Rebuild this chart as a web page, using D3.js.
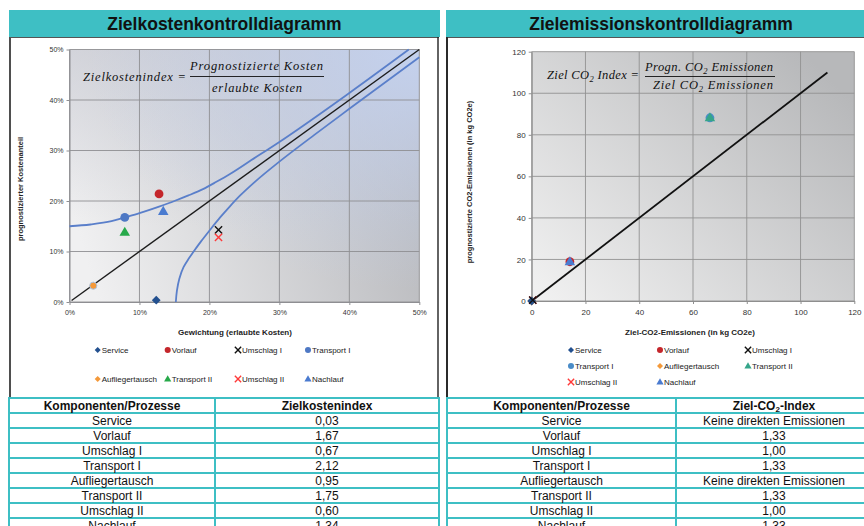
<!DOCTYPE html>
<html>
<head>
<meta charset="utf-8">
<script src="https://cdn.jsdelivr.net/npm/d3@7/dist/d3.min.js"></script>
<style>
  html, body { margin: 0; padding: 0; background: #fff; }
  svg { display: block; font-family: "Liberation Sans", Arial, sans-serif; }
</style>
</head>
<body>
<svg id="chart" width="864" height="526"></svg>
<script>
// ---------- data ----------
const processes = ["Service", "Vorlauf", "Umschlag I", "Transport I", "Aufliegertausch", "Transport II", "Umschlag II", "Nachlauf"];

// Zielkosten: weight (allowed cost share) and forecast cost share
const erlaubteKosten = [0.124, 0.128, 0.213, 0.079, 0.034, 0.079, 0.213, 0.134];
const prognKosten    = [0.0037, 0.214, 0.1427, 0.1675, 0.0323, 0.138, 0.128, 0.1795];
const zielkostenIndex = ["0,03", "1,67", "0,67", "2,12", "0,95", "1,75", "0,60", "1,34"];

// Target cost zone boundaries (x, y as cost shares)
const zoneUpperX = [0, 0.03, 0.06, 0.079, 0.10, 0.128, 0.15, 0.17, 0.19, 0.21, 0.23, 0.26, 0.30, 0.40, 0.485];
const zoneUpperY = [0.150, 0.1535, 0.160, 0.1675, 0.176, 0.189, 0.200, 0.211, 0.223, 0.238, 0.254, 0.281, 0.317, 0.414, 0.50];
const zoneLowerX = [0.152, 0.1535, 0.157, 0.163, 0.170, 0.177, 0.188, 0.201, 0.215, 0.229, 0.244, 0.265, 0.30, 0.35, 0.40, 0.50];
const zoneLowerY = [0.0, 0.022, 0.046, 0.069, 0.085, 0.099, 0.120, 0.143, 0.167, 0.189, 0.211, 0.238, 0.278, 0.331, 0.3825, 0.4845];
const diagKosten = [0.003, 0.50];

// Ziel-CO2: target vs forecast emissions (kg CO2e)
const zielCO2  = [0, 14.2, 0.4, 66.3, 0, 66.3, 0.4, 14.2];
const prognCO2 = [0, 18.9, 0.4, 88.2, 0, 88.2, 0.4, 18.9];
const zielCO2Index = ["Keine direkten Emissionen", "1,33", "1,00", "1,33", "Keine direkten Emissionen", "1,33", "1,00", "1,33"];
const diagCO2 = [0, 110];
// drawing order of the CO2 points (later ones on top)
const co2Order = [4, 6, 1, 7, 3, 5, 0, 2];

const costTicks = [0, 0.1, 0.2, 0.3, 0.4, 0.5];
const co2Ticks = [0, 20, 40, 60, 80, 100, 120];

// marker styles per process
const markerSym = ["diamond", "circle", "cross", "circle", "circleO", "triangle", "cross", "triangle"];
const markerColL = ["#23508f", "#c4262b", "#111111", "#4e78c4", "#f4993a", "#27a94a", "#ff3a3a", "#4a7bd0"];
const markerColR = ["#23508f", "#c4262b", "#111111", "#4a8cc8", "#f4993a", "#35a58a", "#ff3a3a", "#4a7bd0"];

const TEAL = "#3ebfc4";
const svg = d3.select("#chart");
const defs = svg.append("defs");

// ---------- backgrounds ----------
const gL = defs.append("linearGradient").attr("id", "bgL").attr("x1", 0).attr("y1", 0.6).attr("x2", 1).attr("y2", 0.4);
gL.append("stop").attr("offset", 0).attr("stop-color", "#f0f0f1");
gL.append("stop").attr("offset", 1).attr("stop-color", "#b8b9bd");
const gLtop = defs.append("linearGradient").attr("id", "bgLtop").attr("x1", 0).attr("y1", 0).attr("x2", 0).attr("y2", 1);
gLtop.append("stop").attr("offset", 0).attr("stop-color", "#c4c6d0").attr("stop-opacity", 0.6);
gLtop.append("stop").attr("offset", 0.7).attr("stop-color", "#c4c6d0").attr("stop-opacity", 0);
const gLb = defs.append("radialGradient").attr("id", "bgLblue").attr("cx", 1).attr("cy", 0).attr("r", 0.95).attr("fx", 1).attr("fy", 0);
gLb.append("stop").attr("offset", 0).attr("stop-color", "#c4d2f0").attr("stop-opacity", 0.95);
gLb.append("stop").attr("offset", 1).attr("stop-color", "#c4d2f0").attr("stop-opacity", 0);
const gR = defs.append("linearGradient").attr("id", "bgR").attr("x1", 0).attr("y1", 1).attr("x2", 1).attr("y2", 0.2);
gR.append("stop").attr("offset", 0).attr("stop-color", "#f2f2f2");
gR.append("stop").attr("offset", 1).attr("stop-color", "#b7b8ba");

// ---------- panel frames ----------
function panel(x0, x1, title) {
  svg.append("rect").attr("x", x0).attr("y", 10).attr("width", x1 - x0).attr("height", 27).attr("fill", TEAL);
  svg.append("text").attr("x", (x0 + x1) / 2).attr("y", 29.5).attr("text-anchor", "middle")
    .attr("font-size", 17.5).attr("font-weight", "bold").attr("fill", "#111").text(title);
  svg.append("line").attr("x1", x0 + 1).attr("x2", x0 + 1).attr("y1", 37).attr("y2", 398).attr("stroke", "#222").attr("stroke-width", 1.6);
  svg.append("line").attr("x1", x0 + 1).attr("x2", x1 - 1).attr("y1", 37.5).attr("y2", 37.5).attr("stroke", "#555").attr("stroke-width", 1);
}
panel(9, 440, "Zielkostenkontrolldiagramm");
panel(446, 876, "Zielemissionskontrolldiagramm");
svg.append("line").attr("x1", 438).attr("x2", 438).attr("y1", 37).attr("y2", 398).attr("stroke", "#222").attr("stroke-width", 1.4);

// ---------- marker drawing ----------
function drawMarker(g, sym, col, x, y, s) {
  if (sym === "circle") {
    g.append("circle").attr("cx", x).attr("cy", y).attr("r", s * 0.55).attr("fill", col);
  } else if (sym === "circleO") {
    g.append("circle").attr("cx", x).attr("cy", y).attr("r", s * 0.45).attr("fill", col).attr("stroke", "#a9c6e8").attr("stroke-width", 1);
  } else if (sym === "diamond") {
    const r = s * 0.55;
    g.append("path").attr("d", `M${x},${y - r}L${x + r},${y}L${x},${y + r}L${x - r},${y}Z`).attr("fill", col);
  } else if (sym === "triangle") {
    g.append("path").attr("d", d3.symbol(d3.symbolTriangle, s * s * 0.75)()).attr("transform", `translate(${x},${y + 0.5})`).attr("fill", col);
  } else if (sym === "cross") {
    const h = s * 0.45;
    g.append("path").attr("d", `M${x - h},${y - h}L${x + h},${y + h}M${x - h},${y + h}L${x + h},${y - h}`)
      .attr("stroke", col).attr("stroke-width", 1.4).attr("fill", "none");
  }
}

// text with CO2 subscripts: parts = [[string, isSubscript], ...]
function subText(g, xp, yp, parts, opts) {
  const t = g.append("text").attr("x", xp).attr("y", yp).attr("text-anchor", opts.anchor || "start");
  if (opts.len) t.attr("textLength", opts.len).attr("lengthAdjust", "spacing");
  let down = false;
  parts.forEach(([s, sub]) => {
    const sp = t.append("tspan").text(s);
    if (sub) { sp.attr("font-size", opts.subSize).attr("dy", opts.shift); down = true; }
    else if (down) { sp.attr("dy", -opts.shift); down = false; }
  });
  return t;
}

// ---------- left chart: Zielkosten ----------
{
  const x = d3.scaleLinear().domain([0, 0.5]).range([69.5, 419.3]);
  const y = d3.scaleLinear().domain([0, 0.5]).range([302, 49.5]);
  const g = svg.append("g");
  const w = x(0.5) - x(0), h = y(0) - y(0.5);
  ["bgL", "bgLtop", "bgLblue"].forEach(id =>
    g.append("rect").attr("x", x(0)).attr("y", y(0.5)).attr("width", w).attr("height", h).attr("fill", `url(#${id})`));
  g.selectAll(".gx").data(costTicks).join("line").attr("x1", d => x(d)).attr("x2", d => x(d))
    .attr("y1", y(0)).attr("y2", y(0.5)).attr("stroke", "#8e8e92").attr("stroke-width", 0.9);
  g.selectAll(".gy").data(costTicks).join("line").attr("y1", d => y(d)).attr("y2", d => y(d))
    .attr("x1", x(0)).attr("x2", x(0.5)).attr("stroke", "#8e8e92").attr("stroke-width", 0.9);

  const ax = g.append("g").attr("transform", `translate(0,${y(0)})`)
    .call(d3.axisBottom(x).tickValues(costTicks).tickFormat(d3.format(".0%")).tickSize(3).tickSizeOuter(0).tickPadding(5));
  const ay = g.append("g").attr("transform", `translate(${x(0)},0)`)
    .call(d3.axisLeft(y).tickValues(costTicks).tickFormat(d3.format(".0%")).tickSize(3).tickSizeOuter(0).tickPadding(3));
  [ax, ay].forEach(a => {
    a.selectAll("path, line").attr("stroke", "#8e8e92");
    a.selectAll("text").attr("font-size", 7).attr("fill", "#333").attr("font-family", "Liberation Sans, Arial, sans-serif");
  });

  const line = d3.line().x(d => x(d[0])).y(d => y(d[1])).curve(d3.curveMonotoneX);
  g.append("path").datum(d3.zip(zoneUpperX, zoneUpperY)).attr("d", line).attr("fill", "none").attr("stroke", "#5a7fca").attr("stroke-width", 1.8);
  // lower boundary is steep near its start: monotone in y instead
  const lineLow = d3.line().x(d => x(d[0])).y(d => y(d[1])).curve(d3.curveMonotoneY);
  g.append("path").datum(d3.zip(zoneLowerX, zoneLowerY)).attr("d", lineLow).attr("fill", "none").attr("stroke", "#5a7fca").attr("stroke-width", 1.8);
  g.append("path").datum(d3.zip(diagKosten, diagKosten)).attr("d", d3.line().x(d => x(d[0])).y(d => y(d[1])))
    .attr("fill", "none").attr("stroke", "#1c1c1c").attr("stroke-width", 1.4);

  processes.forEach((p, i) => drawMarker(g, markerSym[i], markerColL[i], x(erlaubteKosten[i]), y(prognKosten[i]), 8));

  // formula
  const ft = g.append("g").attr("font-family", "Liberation Serif, serif").attr("font-style", "italic").attr("font-size", 12.5).attr("fill", "#111");
  ft.append("text").attr("x", 83).attr("y", 81).attr("textLength", 103).text("Zielkostenindex =");
  ft.append("text").attr("x", 190).attr("y", 70).attr("textLength", 133).text("Prognostizierte Kosten");
  ft.append("text").attr("x", 257).attr("y", 91.5).attr("text-anchor", "middle").attr("textLength", 90).text("erlaubte Kosten");
  g.append("line").attr("x1", 190).attr("x2", 324).attr("y1", 76.5).attr("y2", 76.5).attr("stroke", "#111").attr("stroke-width", 0.9);

  g.append("text").attr("x", 235).attr("y", 335).attr("text-anchor", "middle").attr("font-size", 8).attr("font-weight", "bold").attr("fill", "#222")
    .text("Gewichtung (erlaubte Kosten)");
  g.append("text").attr("transform", "translate(23,189) rotate(-90)").attr("text-anchor", "middle").attr("font-size", 7.5).attr("font-weight", "bold").attr("fill", "#222")
    .text("prognostizierter Kostenanteil");

  // legend: two rows of four
  const lx = [97.7, 167.7, 238, 308], ly = [350, 379];
  processes.forEach((p, i) => {
    const cx = lx[i % 4], cy = ly[Math.floor(i / 4)];
    const s = markerSym[i] === "cross" ? 7 : 5.5;
    drawMarker(g, markerSym[i] === "circleO" ? "diamond" : markerSym[i], markerColL[i], cx, cy, s);
    g.append("text").attr("x", cx + 4).attr("y", cy + 3).attr("font-size", 8).attr("fill", "#222").text(p);
  });
}

// ---------- right chart: Ziel-CO2 ----------
svg.append("line").attr("x1", 447).attr("x2", 447).attr("y1", 37).attr("y2", 398).attr("stroke", "#222").attr("stroke-width", 1.6);
{
  const x = d3.scaleLinear().domain([0, 120]).range([531.7, 854.3]);
  const y = d3.scaleLinear().domain([0, 120]).range([301, 51.7]);
  const g = svg.append("g");
  g.append("rect").attr("x", x(0)).attr("y", y(120)).attr("width", x(120) - x(0)).attr("height", y(0) - y(120)).attr("fill", "url(#bgR)");
  g.selectAll(".gx").data(co2Ticks).join("line").attr("x1", d => x(d)).attr("x2", d => x(d))
    .attr("y1", y(0)).attr("y2", y(120)).attr("stroke", "#929292").attr("stroke-width", 0.9);
  g.selectAll(".gy").data(co2Ticks).join("line").attr("y1", d => y(d)).attr("y2", d => y(d))
    .attr("x1", x(0)).attr("x2", x(120)).attr("stroke", "#929292").attr("stroke-width", 0.9);

  const ax = g.append("g").attr("transform", `translate(0,${y(0)})`)
    .call(d3.axisBottom(x).tickValues(co2Ticks).tickSize(3).tickSizeOuter(0).tickPadding(5));
  const ay = g.append("g").attr("transform", `translate(${x(0)},0)`)
    .call(d3.axisLeft(y).tickValues(co2Ticks).tickSize(3).tickSizeOuter(0).tickPadding(3));
  [ax, ay].forEach(a => {
    a.selectAll("path, line").attr("stroke", "#8e8e8e");
    a.selectAll("text").attr("font-size", 8).attr("fill", "#333").attr("font-family", "Liberation Sans, Arial, sans-serif");
  });

  g.append("path").datum(d3.zip(diagCO2, diagCO2)).attr("d", d3.line().x(d => x(d[0])).y(d => y(d[1])))
    .attr("fill", "none").attr("stroke", "#111").attr("stroke-width", 1.8);

  co2Order.forEach(i => drawMarker(g, markerSym[i] === "circleO" ? "diamond" : markerSym[i], markerColR[i], x(zielCO2[i]), y(prognCO2[i]), 8));

  // formula
  const ft = g.append("g").attr("font-family", "Liberation Serif, serif").attr("font-style", "italic").attr("font-size", 12.5).attr("fill", "#111");
  const o = { subSize: 8.5, shift: 3 };
  subText(ft, 547, 79, [["Ziel CO"], ["2", true], [" Index ="]], { ...o, len: 92 });
  subText(ft, 645, 70.5, [["Progn. CO"], ["2", true], [" Emissionen"]], { ...o, len: 128 });
  subText(ft, 653, 88.5, [["Ziel CO"], ["2", true], [" Emissionen"]], { ...o, len: 120 });
  g.append("line").attr("x1", 645).attr("x2", 775).attr("y1", 76.5).attr("y2", 76.5).attr("stroke", "#111").attr("stroke-width", 0.9);

  g.append("text").attr("x", 690).attr("y", 335).attr("text-anchor", "middle").attr("font-size", 8).attr("font-weight", "bold").attr("fill", "#222")
    .text("Ziel-CO2-Emissionen (in kg CO2e)");
  g.append("text").attr("transform", "translate(472,182) rotate(-90)").attr("text-anchor", "middle").attr("font-size", 7.5).attr("font-weight", "bold").attr("fill", "#222")
    .text("prognostizierte CO2-Emissionen (in kg CO2e)");

  const lx = [571, 660, 748], ly = [350, 366, 382];
  processes.forEach((p, i) => {
    const cx = lx[i % 3], cy = ly[Math.floor(i / 3)];
    const s = markerSym[i] === "cross" ? 7 : 5.5;
    drawMarker(g, markerSym[i] === "circleO" ? "diamond" : markerSym[i], markerColR[i], cx, cy, s);
    g.append("text").attr("x", cx + 4).attr("y", cy + 3).attr("font-size", 8).attr("fill", "#222").text(p);
  });
}

// ---------- tables ----------
function table(x0, xm, x1, header, values) {
  const top = 398, rowH = 15;
  const g = svg.append("g");
  const rows = processes.length + 1;
  const yEnd = top + rowH * rows;
  g.append("rect").attr("x", x0).attr("y", top).attr("width", x1 - x0).attr("height", yEnd - top).attr("fill", "#fff");
  d3.range(rows + 1).forEach(r => {
    g.append("line").attr("x1", x0).attr("x2", x1).attr("y1", top + r * rowH).attr("y2", top + r * rowH).attr("stroke", TEAL).attr("stroke-width", 2);
  });
  [x0, xm, x1].forEach(xx => g.append("line").attr("x1", xx).attr("x2", xx).attr("y1", top - 1).attr("y2", yEnd).attr("stroke", TEAL).attr("stroke-width", 2));
  const c1 = (x0 + xm) / 2, c2 = (xm + x1) / 2;
  g.append("text").attr("x", c1).attr("y", top + 11.5).attr("text-anchor", "middle").attr("font-size", 12).attr("font-weight", "bold").attr("fill", "#111").text("Komponenten/Prozesse");
  const hg = g.append("g").attr("font-size", 12).attr("font-weight", "bold").attr("fill", "#111");
  subText(hg, c2, top + 11.5, header, { anchor: "middle", subSize: 8, shift: 2.5 });
  processes.forEach((p, i) => {
    const yy = top + rowH * (i + 1) + 11.8;
    g.append("text").attr("x", c1).attr("y", yy).attr("text-anchor", "middle").attr("font-size", 12).attr("fill", "#111").text(p);
    g.append("text").attr("x", c2).attr("y", yy).attr("text-anchor", "middle").attr("font-size", 12).attr("fill", "#111").text(values[i]);
  });
}
table(9, 215, 439, [["Zielkostenindex"]], zielkostenIndex);
table(447, 676, 872, [["Ziel-CO"], ["2", true], ["-Index"]], zielCO2Index);
</script>
</body>
</html>
